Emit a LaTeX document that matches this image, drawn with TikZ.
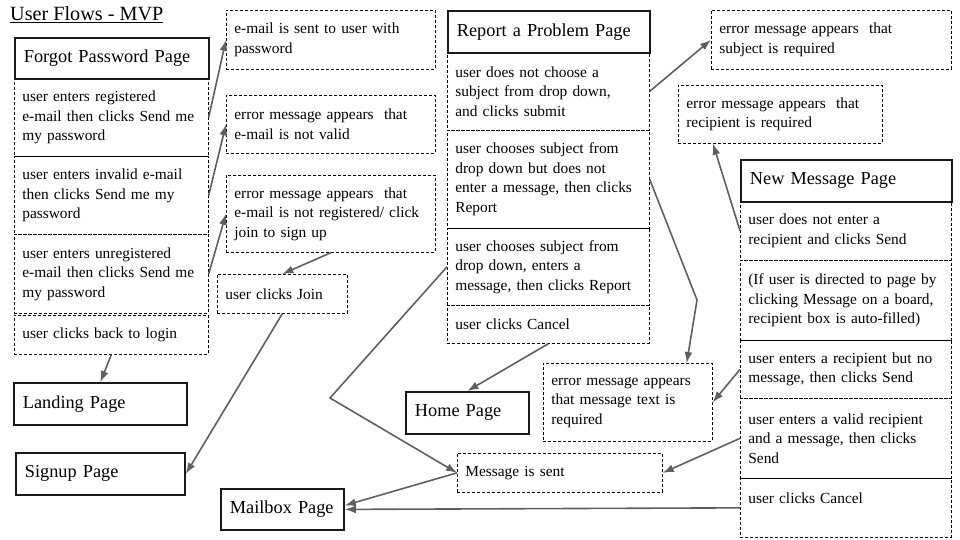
\documentclass[tikz,border=0pt]{standalone}
\usepackage{fontspec}
\setmainfont{Liberation Serif}
\usetikzlibrary{arrows.meta}

\definecolor{flowgray}{RGB}{95,95,95}
\tikzset{
	pagebox/.style={draw=black!90, line width=1.8pt, anchor=north west, align=left, inner xsep=9pt, font=\fontsize{18.3}{21}\selectfont},
	dbox/.style={draw, dashed, dash pattern=on 3pt off 2pt, line width=0.7pt, anchor=north west, align=left, inner xsep=8pt, inner ysep=3pt, font=\fontsize{15.4}{19.5}\selectfont},
	flow/.style={draw=flowgray, line width=1.6pt, -{Latex[length=11pt,width=8pt]}}
}

\begin{document}
\begin{tikzpicture}[x=1pt, y=-1pt]
				\useasboundingbox (0,0) rectangle (960,540);
				\node[anchor=south west, inner sep=0pt, font=\fontsize{20.2}{22}\selectfont] (title) at (10,23) {\underline{User Flows - MVP}};
				% forgot password
				\node[dbox, text width=178pt, minimum height=78] (fp1) at (14,78) {user enters registered\\e-mail then clicks Send me\\my password};
				\node[dbox, text width=178pt, minimum height=78] (fp2) at (14,156) {user enters invalid e-mail\\then clicks Send me my\\password};
				\node[dbox, text width=178pt, minimum height=79] (fp3) at (14,234) {user enters unregistered\\e-mail then clicks Send me\\my password};
				\node[dbox, text width=178pt, minimum height=39] (back) at (14,315) {user clicks back to login};
				\node[pagebox, text width=176pt, minimum height=41] (fpp) at (14,37) {Forgot Password Page};
				\node[pagebox, text width=155pt, minimum height=42] (landing) at (13,382) {Landing Page};
				\node[pagebox, text width=151pt, minimum height=42] (signup) at (15,452) {Signup Page};
				\node[dbox, text width=193pt, minimum height=59] (sent) at (226,10) {e-mail is sent to user with\\password};
				\node[dbox, text width=193pt, minimum height=58] (invalid) at (226,95) {error message appears~ that\\e-mail is not valid};
				\node[dbox, text width=193pt, minimum height=77] (notreg) at (226,175) {error message appears~ that\\e-mail is not registered/ click\\join to sign up};
				\node[dbox, text width=114pt, minimum height=39] (join) at (217,274) {user clicks Join};
				\node[pagebox, text width=105pt, minimum height=41] (mailbox) at (220,488) {Mailbox Page};
				% report a problem
				\node[dbox, text width=186pt, minimum height=78] (rp1) at (447,52) {user does not choose a\\subject from drop down,\\and clicks submit};
				\node[dbox, text width=186pt, minimum height=98] (rp2) at (447,130) {user chooses subject from\\drop down but does not\\enter a message, then clicks\\Report};
				\node[dbox, text width=186pt, minimum height=77] (rp3) at (447,228) {user chooses subject from\\drop down, enters a\\message, then clicks Report};
				\node[dbox, text width=186pt, minimum height=38] (rpc) at (447,305) {user clicks Cancel};
				\node[pagebox, text width=184pt, minimum height=42] (rpp) at (447,10) {Report a Problem Page};
				\node[pagebox, text width=105pt, minimum height=42] (home) at (405,391) {Home Page};
				\node[dbox, text width=153pt, minimum height=78] (errtext) at (543,363) {error message appears\\that message text is\\required};
				\node[dbox, text width=189pt, minimum height=39] (msent) at (457,453) {Message is sent};
				\node[dbox, text width=224pt, minimum height=59] (subj) at (711,10) {error message appears~ that\\subject is required};
				\node[dbox, text width=188pt, minimum height=58] (recip) at (678,85) {error message appears~ that\\recipient is required};
				% new message
				\node[dbox, text width=195pt, minimum height=59] (nm1) at (740,201) {user does not enter a\\recipient and clicks Send};
				\node[dbox, text width=195pt, minimum height=80] (nm2) at (740,260) {(If user is directed to page by\\clicking Message on a board,\\recipient box is auto-filled)};
				\node[dbox, text width=195pt, minimum height=58] (nm3) at (740,340) {user enters a recipient but no\\message, then clicks Send};
				\node[dbox, text width=195pt, minimum height=80] (nm4) at (740,398) {user enters a valid recipient\\and a message, then clicks\\Send};
				\node[dbox, text width=195pt, minimum height=59] (nm5) at (740,478) {user clicks Cancel\\\mbox{}};
				\node[pagebox, text width=193pt, minimum height=42] (nmp) at (740,159) {New Message Page};
				\coordinate (bendA) at (697,300);
				\coordinate (bendB) at (330,398);
				\draw[flow] (fp1.east) -- (sent.west);
				\draw[flow] (fp2.east) -- (invalid.west);
				\draw[flow] (fp3.east) -- (notreg.west);
				\draw[flow] (notreg.south) -- (join.north);
				\draw[flow] (back.south) -- (landing.north);
				\draw[flow] (join.south) -- (signup.east);
				\draw[flow] (rp1.east) -- (subj.west);
				\draw[flow] (rp2.east) -- (bendA) -- ([xshift=-26pt]errtext.north east);
				\draw[flow] (rp3.west) -- (bendB) -- (msent.west);
				\draw[flow] (rpc.south) -- (home.north);
				\draw[flow] (nm1.west) -- ([xshift=35pt]recip.south west);
				\draw[flow] (nm3.west) -- (errtext.east);
				\draw[flow] (nm4.west) -- (msent.east);
				\draw[flow] (nm5.west) -- (mailbox.east);
				\draw[flow] (msent.west) -- ([yshift=4pt]mailbox.east);
			\end{tikzpicture}
\end{document}
